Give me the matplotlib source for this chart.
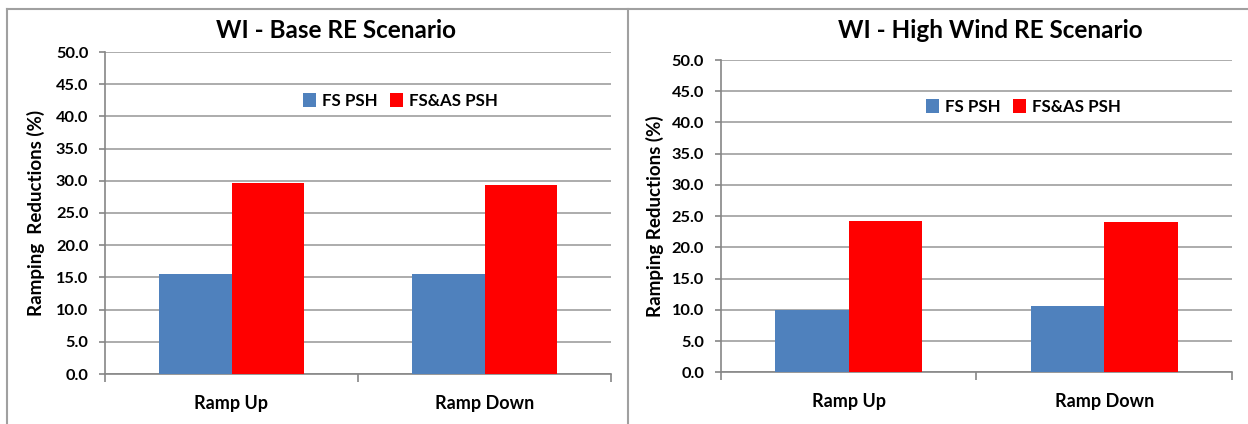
import matplotlib
matplotlib.use("Agg")
import matplotlib.pyplot as plt
from matplotlib.lines import Line2D
import numpy as np

categories = ["Ramp Up", "Ramp Down"]
series_names = ["FS PSH", "FS&AS PSH"]
base_fs = [15.5, 15.5]
base_fsas = [29.7, 29.3]
high_fs = [10.0, 10.6]
high_fsas = [24.2, 24.0]
titles = ["WI - Base RE Scenario", "WI - High Wind RE Scenario"]
ylabels = ["Ramping  Reductions (%)", "Ramping Reductions (%)"]
yticks = [0, 5, 10, 15, 20, 25, 30, 35, 40, 45, 50]

plt.rcParams['font.family'] = ['Lato', 'DejaVu Sans']
W, H = 1248, 424
fig = plt.figure(figsize=(W / 100, H / 100), dpi=100)

BLUE = "#4F81BD"
RED = "#FF0000"
GRID = "#A6A6A6"
SPINE = "#868686"

def px_axes(x0, x1, ytop, ybot):
    return fig.add_axes([x0 / W, 1 - ybot / H, (x1 - x0) / W, (ybot - ytop) / H])

panels = [
    dict(rect=(105, 611, 52, 374), fs=base_fs, fsas=base_fsas, title=titles[0],
         ylabel=ylabels[0], title_xy=(336, 31), leg=(0.391, 0.848), ylab_x=36),
    dict(rect=(720.7, 1232, 60, 372.3), fs=high_fs, fsas=high_fsas, title=titles[1],
         ylabel=ylabels[1], title_xy=(990, 30), leg=(0.401, 0.849), ylab_x=655),
]

w = 0.287
x = np.arange(len(categories))
for p in panels:
    ax = px_axes(*p["rect"])
    ax.bar(x - w / 2, p["fs"], w, color=BLUE, label=series_names[0], zorder=3)
    ax.bar(x + w / 2, p["fsas"], w, color=RED, label=series_names[1], zorder=3)
    ax.set_xlim(-0.5, 1.5)
    ax.set_ylim(0, 50)
    ax.set_yticks(yticks)
    ax.set_yticklabels([f"{v:.1f}" for v in yticks], fontsize=11.8, fontweight="bold")
    ax.yaxis.grid(True, color=GRID, linewidth=1.3, zorder=0)
    ax.set_axisbelow(True)
    for s in ["top", "right"]:
        ax.spines[s].set_visible(False)
    for s in ["left", "bottom"]:
        ax.spines[s].set_color(SPINE)
        ax.spines[s].set_linewidth(1.2)
    ax.tick_params(axis="y", length=4, width=1.2, color=SPINE, pad=8)
    ax.set_xticks([-0.5, 0.5, 1.5])
    ax.set_xticklabels([])
    ax.tick_params(axis="x", which="major", length=6, width=1.2, color=SPINE)
    ax.set_xticks(x, minor=True)
    ax.set_xticklabels(categories, minor=True, fontsize=13, fontweight="bold")
    ax.tick_params(axis="x", which="minor", length=0, pad=15)
    tx, ty = p["title_xy"]
    fig.text(tx / W, 1 - ty / H, p["title"], fontsize=17.5, fontweight="bold",
             ha="center", va="center")
    fig.text(p["ylab_x"] / W, 1 - ((p["rect"][2] + p["rect"][3]) / 2) / H, p["ylabel"],
             fontsize=13.5, fontweight="bold", rotation=90, ha="center", va="center")
    ax.legend(loc="center left", bbox_to_anchor=p["leg"], ncol=2, frameon=False,
              borderpad=0, borderaxespad=0, handlelength=0.8, handleheight=0.9,
              handletextpad=0.35, columnspacing=0.7,
              prop=dict(size=12.2, weight="bold"))

# panel frames
lc = "#A0A0A0"
fig.add_artist(Line2D([7 / W, 1], [1 - 8.5 / H, 1 - 8.5 / H], color=lc, lw=1.5))
fig.add_artist(Line2D([7 / W, 7 / W], [0, 1 - 8.5 / H], color=lc, lw=1.5))
fig.add_artist(Line2D([628 / W, 628 / W], [0, 1 - 8.5 / H], color=lc, lw=1.5))

fig.savefig("out.png", dpi=100)
